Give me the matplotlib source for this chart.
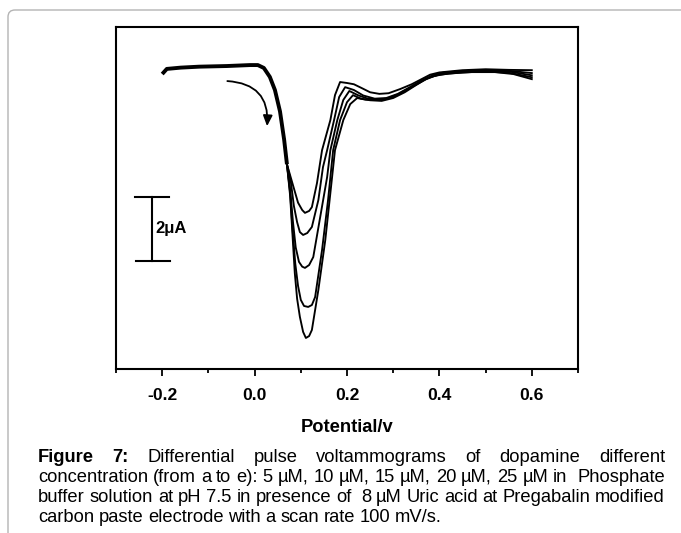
import matplotlib
matplotlib.use("Agg")

import matplotlib.pyplot as plt
from matplotlib.patches import FancyBboxPatch
from matplotlib.transforms import IdentityTransform
from matplotlib.ticker import MultipleLocator

plt.rcParams["font.family"] = ["Liberation Sans", "DejaVu Sans"]

# common start of all scans (baseline + falling edge), potential in V, current in uA
E_base = [-0.200, -0.190, -0.160, -0.120, -0.060, -0.010, 0.007, 0.020, 0.033, 0.044, 0.055, 0.064, 0.070]
I_base = [9.22, 9.38, 9.42, 9.45, 9.47, 9.50, 9.50, 9.41, 9.13, 8.72, 8.05, 7.16, 6.40]

# a) 5 uM
E_a = [0.078, 0.086, 0.094, 0.103, 0.109, 0.118, 0.124, 0.135, 0.146, 0.164, 0.174, 0.185, 0.200, 0.215,
       0.232, 0.250, 0.270, 0.290, 0.315, 0.340, 0.360, 0.380, 0.400, 0.450, 0.500, 0.550, 0.600]
I_a = [6.00, 5.60, 5.20, 4.97, 4.88, 4.94, 5.06, 5.81, 6.84, 7.78, 8.56, 8.97, 8.94, 8.90,
       8.78, 8.65, 8.60, 8.62, 8.75, 8.90, 9.05, 9.20, 9.27, 9.34, 9.37, 9.35, 9.34]

# b) 10 uM
E_b = [0.078, 0.085, 0.092, 0.098, 0.105, 0.114, 0.124, 0.138, 0.148, 0.157, 0.172, 0.183, 0.196,
       0.215, 0.235, 0.260, 0.285, 0.310, 0.335, 0.360, 0.385, 0.410, 0.450, 0.500, 0.550, 0.600]
I_b = [5.90, 5.10, 4.59, 4.28, 4.19, 4.25, 4.44, 5.28, 6.31, 6.84, 7.78, 8.50, 8.81,
       8.72, 8.55, 8.45, 8.47, 8.60, 8.80, 9.00, 9.18, 9.27, 9.31, 9.34, 9.32, 9.25]

# c) 15 uM
E_c = [0.077, 0.083, 0.089, 0.096, 0.103, 0.109, 0.118, 0.127, 0.142, 0.157, 0.164, 0.179, 0.192,
       0.205, 0.225, 0.245, 0.270, 0.295, 0.320, 0.345, 0.370, 0.400, 0.440, 0.500, 0.550, 0.600]
I_c = [5.60, 4.60, 3.80, 3.35, 3.20, 3.16, 3.25, 3.50, 4.75, 6.00, 6.84, 7.78, 8.41,
       8.69, 8.55, 8.45, 8.42, 8.48, 8.65, 8.85, 9.05, 9.22, 9.30, 9.32, 9.30, 9.18]

# d) 20 uM
E_d = [0.077, 0.082, 0.088, 0.094, 0.100, 0.107, 0.116, 0.124, 0.131, 0.146, 0.159, 0.170, 0.185, 0.200,
       0.213, 0.230, 0.250, 0.275, 0.300, 0.325, 0.350, 0.375, 0.400, 0.450, 0.500, 0.550, 0.600]
I_d = [5.50, 4.40, 3.30, 2.60, 2.16, 1.97, 1.94, 2.00, 2.25, 3.72, 5.28, 6.84, 7.78, 8.34,
       8.56, 8.45, 8.40, 8.38, 8.47, 8.65, 8.88, 9.10, 9.20, 9.27, 9.30, 9.26, 9.12]

# e) 25 uM
E_e = [0.077, 0.082, 0.087, 0.092, 0.098, 0.105, 0.111, 0.118, 0.124, 0.138, 0.153, 0.164, 0.174, 0.192,
       0.207, 0.222, 0.240, 0.260, 0.285, 0.310, 0.335, 0.360, 0.385, 0.420, 0.470, 0.520, 0.560, 0.600]
I_e = [5.40, 4.20, 3.00, 2.20, 1.63, 1.16, 0.97, 1.03, 1.22, 2.47, 4.03, 5.50, 6.84, 7.78,
       8.28, 8.47, 8.42, 8.41, 8.44, 8.58, 8.78, 9.00, 9.15, 9.24, 9.28, 9.28, 9.22, 9.06]

scans = [(E_a, I_a), (E_b, I_b), (E_c, I_c), (E_d, I_d), (E_e, I_e)]

scale_bar_uA = 2.0
x_ticks = [-0.2, 0.0, 0.2, 0.4, 0.6]

W, H = 681, 533
fig = plt.figure(figsize=(W / 100, H / 100), dpi=100)

# page frame (grey rule top + left, rounded corner)
frame = FancyBboxPatch((8, -30), 720, H - 10 + 30, boxstyle="round,pad=0,rounding_size=7",
                       transform=IdentityTransform(), fc="none", ec="#b4b4b4", lw=1.0)
fig.add_artist(frame)

ax = fig.add_axes([116 / W, 1 - 369 / H, (578 - 116) / W, (369 - 27) / H])

# the five scans lie on top of each other here, so the shared part looks heavier
ax.plot(E_base, I_base, color="black", lw=2.8, solid_joinstyle="round", solid_capstyle="butt")
for E, I in scans:
    ax.plot(E_base[-2:] + E, I_base[-2:] + I, color="black", lw=1.35, solid_joinstyle="round")

ax.set_xlim(-0.3, 0.7)
ax.set_ylim(0, 10.69)
ax.set_yticks([])
ax.set_xticks(x_ticks)
ax.set_xticklabels([f"{v:.1f}" for v in x_ticks], fontsize=12.6, fontweight="bold")
ax.xaxis.set_minor_locator(MultipleLocator(0.1))
ax.tick_params(axis="x", which="major", direction="out", length=5, width=1.3, pad=9)
ax.tick_params(axis="x", which="minor", direction="out", length=3.2, width=1.3)
for sp in ax.spines.values():
    sp.set_linewidth(1.5)
ax.set_xlabel("Potential/v", fontsize=13.2, fontweight="bold", labelpad=11)

# scan direction arrow
ax.annotate("", xy=(0.027, 7.59), xytext=(-0.059, 9.0),
            arrowprops=dict(arrowstyle="-|>,head_length=0.45,head_width=0.2",
                            connectionstyle="arc3,rad=-0.5", color="black", lw=1.3,
                            shrinkA=0, shrinkB=0, mutation_scale=14))

# 2 uA scale bar
y_lo, y_hi = 3.38, 3.38 + scale_bar_uA
ax.plot([-0.223, -0.223], [y_lo, y_hi], color="black", lw=1.5)
ax.plot([-0.259, -0.186], [y_hi, y_hi], color="black", lw=1.5)
ax.plot([-0.257, -0.184], [y_lo, y_lo], color="black", lw=1.5)
ax.text(-0.214, (y_lo + y_hi) / 2, "2\u03bcA", fontsize=12, fontweight="bold", ha="left", va="center")

# caption, justified like the journal page
caption = [
    ("Figure 7: Differential pulse voltammograms of dopamine different", True),
    ("concentration (from a to e): 5 \u00b5M, 10 \u00b5M, 15 \u00b5M, 20 \u00b5M, 25 \u00b5M in  Phosphate", True),
    ("buffer solution at pH 7.5 in presence of  8 \u00b5M Uric acid at Pregabalin modified", True),
    ("carbon paste electrode with a scan rate 100 mV/s.", False),
]
baselines = [462.5, 482.5, 502.5, 522.5]
x0, x1 = 38, 665
cap_fs = 13.2

renderer = fig.canvas.get_renderer()
for li, ((line, justify), yb) in enumerate(zip(caption, baselines)):
    words = line.split(" ")
    texts = []
    for wi, w in enumerate(words):
        bold = li == 0 and wi < 2
        t = fig.text(0, 1 - yb / H, w, fontsize=cap_fs, fontweight="bold" if bold else "normal",
                     ha="left", va="baseline")
        texts.append(t)
    widths = [t.get_window_extent(renderer).width if t.get_text() else 0 for t in texts]
    if justify:
        gap = (x1 - x0 - sum(widths)) / (len(words) - 1)
    else:
        gap = 0.25 * cap_fs * 100 / 72
    x = x0
    for t, w in zip(texts, widths):
        t.set_x(x / W)
        x += w + gap

fig.savefig("out.png", dpi=100)
